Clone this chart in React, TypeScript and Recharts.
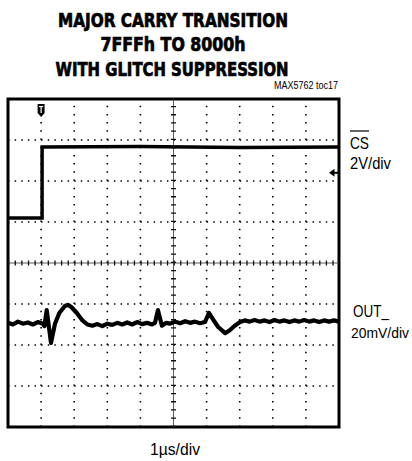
import React from "react";
import { ComposedChart, Line, XAxis, YAxis, ReferenceLine, ReferenceArea, ReferenceDot } from "recharts";

const titleLines = ["MAJOR CARRY TRANSITION", "7FFFh TO 8000h", "WITH GLITCH SUPPRESSION"];
const xTicks = [1, 2, 3, 4, 6, 7, 8, 9];
const yTicks = [1, 2, 3, 5, 6, 7];

const csData = [
  { x: 0, y: 5.1 },
  { x: 1.03, y: 5.1 },
  { x: 1.03, y: 6.83 },
  { x: 4, y: 6.84 },
  { x: 7, y: 6.82 },
  { x: 10, y: 6.83 },
];

const outX = [
  0, 0.15, 0.3, 0.45, 0.6, 0.75, 0.9, 1.05, 1.1, 1.17, 1.3, 1.42, 1.55, 1.72, 1.82, 1.92, 2.08, 2.25, 2.4,
  2.55, 2.7, 2.85, 3.0, 3.15, 3.3, 3.45, 3.6, 3.75, 3.9, 4.05, 4.2, 4.35, 4.44, 4.53, 4.65, 4.78, 4.9, 5.05,
  5.2, 5.35, 5.5, 5.65, 5.8, 5.95, 6.07, 6.2, 6.35, 6.56, 6.7, 6.85, 7.01, 7.15, 7.3, 7.45, 7.6, 7.75, 7.9,
  8.05, 8.2, 8.35, 8.5, 8.65, 8.8, 8.95, 9.1, 9.25, 9.4, 9.55, 9.7, 9.85, 10.0,
];
const outY = [
  2.54, 2.5, 2.57, 2.52, 2.55, 2.5, 2.56, 2.52, 2.46, 2.85, 2.05, 2.52, 2.78, 2.95, 2.98, 2.92, 2.78, 2.6, 2.5,
  2.47, 2.51, 2.46, 2.52, 2.49, 2.54, 2.5, 2.55, 2.5, 2.56, 2.51, 2.54, 2.5, 2.54, 2.85, 2.47, 2.54, 2.52, 2.57,
  2.53, 2.58, 2.54, 2.57, 2.53, 2.56, 2.78, 2.62, 2.44, 2.29, 2.36, 2.47, 2.56, 2.6, 2.57, 2.61, 2.57, 2.6, 2.56,
  2.61, 2.57, 2.6, 2.56, 2.6, 2.57, 2.61, 2.57, 2.6, 2.56, 2.6, 2.57, 2.6, 2.57,
];
const outData = outX.map((x, i) => ({ x, y: outY[i] }));

const TriggerMarker = (props: any) => {
  const { cx, cy } = props;
  return (
    <g>
      <path
        d={`M ${cx - 3.5} ${cy - 6} L ${cx + 3.5} ${cy - 6} L ${cx + 3.5} ${cy + 3} L ${cx} ${cy + 7} L ${cx - 3.5} ${cy + 3} Z`}
        fill="#000"
      />
      <line x1={cx - 2} x2={cx + 2} y1={cy - 3.5} y2={cy - 3.5} stroke="#fff" strokeWidth={1.2} />
      <line x1={cx} x2={cx} y1={cy - 3.5} y2={cy + 3} stroke="#fff" strokeWidth={1.2} />
    </g>
  );
};

const GroundArrow = (props: any) => {
  const { cx, cy } = props;
  return (
    <g>
      <path d={`M ${cx - 10} ${cy} L ${cx - 4.5} ${cy - 4} L ${cx - 4.5} ${cy + 4} Z`} fill="#000" />
      <line x1={cx - 5} x2={cx} y1={cy} y2={cy} stroke="#000" strokeWidth={2} />
    </g>
  );
};

const labelFont = "'Liberation Sans', Arial, sans-serif";
const titleFont = "'DejaVu Sans Condensed', 'DejaVu Sans', sans-serif";

export default function App() {
  return (
    <div style={{ position: "absolute", left: 0, top: 0, width: 412, height: 461, background: "#fff" }}>
      <ComposedChart width={412} height={461} margin={{ top: 99, right: 73, bottom: 34, left: 8 }}>
        <XAxis type="number" dataKey="x" domain={[0, 10]} hide allowDataOverflow />
        <YAxis type="number" dataKey="y" domain={[0, 8]} hide allowDataOverflow />
        {yTicks.map((t) => (
          <ReferenceLine key={"h" + t} y={t} stroke="#000" strokeWidth={1.6} strokeDasharray="1.5 5.12" />
        ))}
        {xTicks.map((t) => (
          <ReferenceLine key={"v" + t} x={t} stroke="#000" strokeWidth={1.6} strokeDasharray="1.5 6.7" />
        ))}
        <ReferenceLine y={4} stroke="#333" strokeWidth={0.8} />
        <ReferenceLine y={4} stroke="#111" strokeWidth={5} strokeDasharray="1.3 5.32" />
        <ReferenceLine x={5} stroke="#333" strokeWidth={0.8} />
        <ReferenceLine x={5} stroke="#111" strokeWidth={5} strokeDasharray="1.3 6.9" />
        <ReferenceArea x1={0} x2={10} y1={0} y2={8} fill="none" stroke="#000" strokeWidth={3} />
        <Line
          data={csData}
          dataKey="y"
          type="linear"
          stroke="#000"
          strokeWidth={3.5}
          dot={false}
          isAnimationActive={false}
        />
        <Line
          data={outData}
          dataKey="y"
          type="linear"
          stroke="#000"
          strokeWidth={4.2}
          strokeLinejoin="round"
          dot={false}
          isAnimationActive={false}
        />
        <ReferenceDot x={1.0} y={7.73} r={4} shape={TriggerMarker} />
        <ReferenceDot x={10} y={6.2} r={4} shape={GroundArrow} />
      </ComposedChart>
      <svg
        width={412}
        height={461}
        style={{ position: "absolute", left: 0, top: 0, pointerEvents: "none" }}
      >
        <g fill="#000" stroke="#000" strokeWidth={0.7}>
          <text x={173} y={27} textAnchor="middle" fontFamily={titleFont} fontWeight={700} fontSize={20} textLength={230} lengthAdjust="spacingAndGlyphs">
            {titleLines[0]}
          </text>
          <text x={173} y={51} textAnchor="middle" fontFamily={titleFont} fontWeight={700} fontSize={20} textLength={145} lengthAdjust="spacingAndGlyphs">
            {titleLines[1]}
          </text>
          <text x={172} y={76} textAnchor="middle" fontFamily={titleFont} fontWeight={700} fontSize={20} textLength={233} lengthAdjust="spacingAndGlyphs">
            {titleLines[2]}
          </text>
        </g>
        <text x={338} y={89} textAnchor="end" fontFamily={labelFont} fontSize={10} textLength={64} lengthAdjust="spacingAndGlyphs">
          MAX5762 toc17
        </text>
        <line x1={350} x2={369} y1={131} y2={131} stroke="#000" strokeWidth={1.2} />
        <text x={350} y={149} fontFamily={labelFont} fontSize={17} textLength={19} lengthAdjust="spacingAndGlyphs">
          CS
        </text>
        <text x={350} y={169} fontFamily={labelFont} fontSize={17} textLength={41} lengthAdjust="spacingAndGlyphs">
          2V/div
        </text>
        <text x={353} y={317} fontFamily={labelFont} fontSize={17} textLength={36} lengthAdjust="spacingAndGlyphs">
          OUT_
        </text>
        <text x={351} y={338} fontFamily={labelFont} fontSize={14.5} textLength={58} lengthAdjust="spacingAndGlyphs">
          20mV/div
        </text>
        <text x={150} y={455} fontFamily={labelFont} fontSize={17} textLength={50} lengthAdjust="spacingAndGlyphs">
          1µs/div
        </text>
      </svg>
    </div>
  );
}
